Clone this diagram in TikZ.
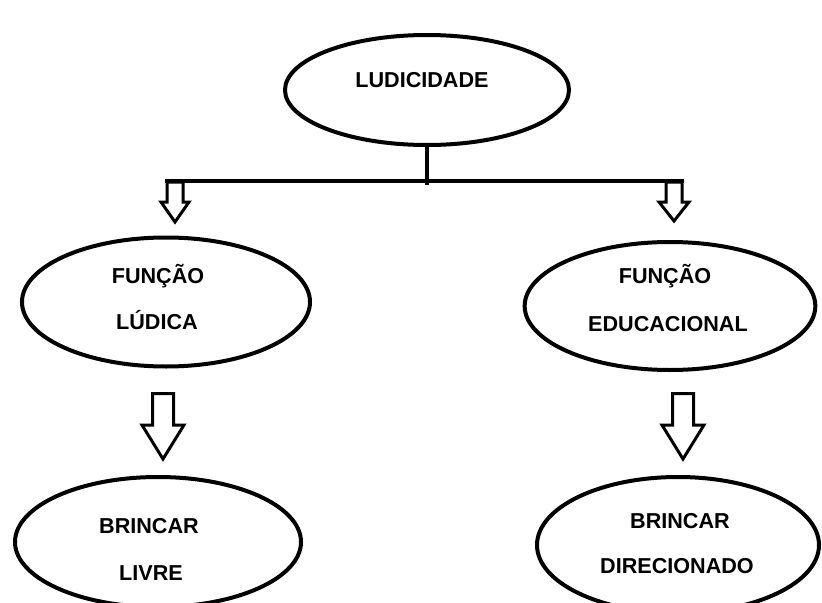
\documentclass[tikz,border=0pt]{standalone}
\usepackage{fontspec}
\setmainfont{Liberation Sans}
\usetikzlibrary{shapes.geometric}
\tikzset{
  oval/.style={draw=black, line width=3pt, ellipse, inner sep=0pt},
  lbl/.style={font=\bfseries\fontsize{16.2pt}{19pt}\selectfont, inner sep=0pt, anchor=base},
  bar/.style={draw=black, line width=3pt},
  blk/.style={draw=black, line width=2.25pt, fill=white, line join=miter},
}
% \blkarrow{cx}{top}{shaft half}{head half}{head y}{tip y}
\newcommand\blkarrow[6]{%
  \draw[blk] (#1-#3,#2) -- (#1+#3,#2) -- (#1+#3,#5) -- (#1+#4,#5) -- (#1,#6)
    -- (#1-#4,#5) -- (#1-#3,#5) -- cycle;}
\begin{document}
\begin{tikzpicture}[x=0.75pt,y=-0.75pt]
\useasboundingbox (0,0) rectangle (822,603);
\fill[white] (0,0) rectangle (822,603);

% ellipses
\node[oval, minimum width=213pt, minimum height=82.5pt] (top) at (427,90) {};
\node[oval, minimum width=216pt, minimum height=96.75pt] (ml) at (166,302) {};
\node[oval, minimum width=218pt, minimum height=96pt] (mr) at (670,306) {};
\node[oval, minimum width=214.5pt, minimum height=97.5pt] (bl) at (158,542) {};
\node[oval, minimum width=211.5pt, minimum height=102pt] (br) at (678,545) {};

% labels
\node[lbl] (t1) at (422,87) {LUDICIDADE};
\node[lbl] (l1) at (158,283.3) {FUNÇÃO};
\node[lbl] (l2) at (157,329) {LÚDICA};
\node[lbl] (r1) at (665,283.3) {FUNÇÃO};
\node[lbl] (r2) at (668,331.7) {EDUCACIONAL};
\node[lbl] (b1) at (149,533.3) {BRINCAR};
\node[lbl] (b2) at (151,580) {LIVRE};
\node[lbl] (c1) at (680,528.3) {BRINCAR};
\node[lbl] (c2) at (677,573.3) {DIRECIONADO};

% connector tree
\coordinate (barL) at (165,181);
\coordinate (barR) at (684,181);
\coordinate (stemEnd) at (424,185);
\draw[bar] (top.south) -- (top.south |- stemEnd);
\draw[bar] (barL) -- (barR);

% small arrows
\blkarrow{175}{182}{8}{14}{202}{222}
\blkarrow{674}{182}{8}{15}{202}{221}

% big arrows
\blkarrow{163}{393.5}{10.5}{21}{425}{459}
\blkarrow{683}{393.5}{10.5}{21}{425}{459}
\end{tikzpicture}
\end{document}
